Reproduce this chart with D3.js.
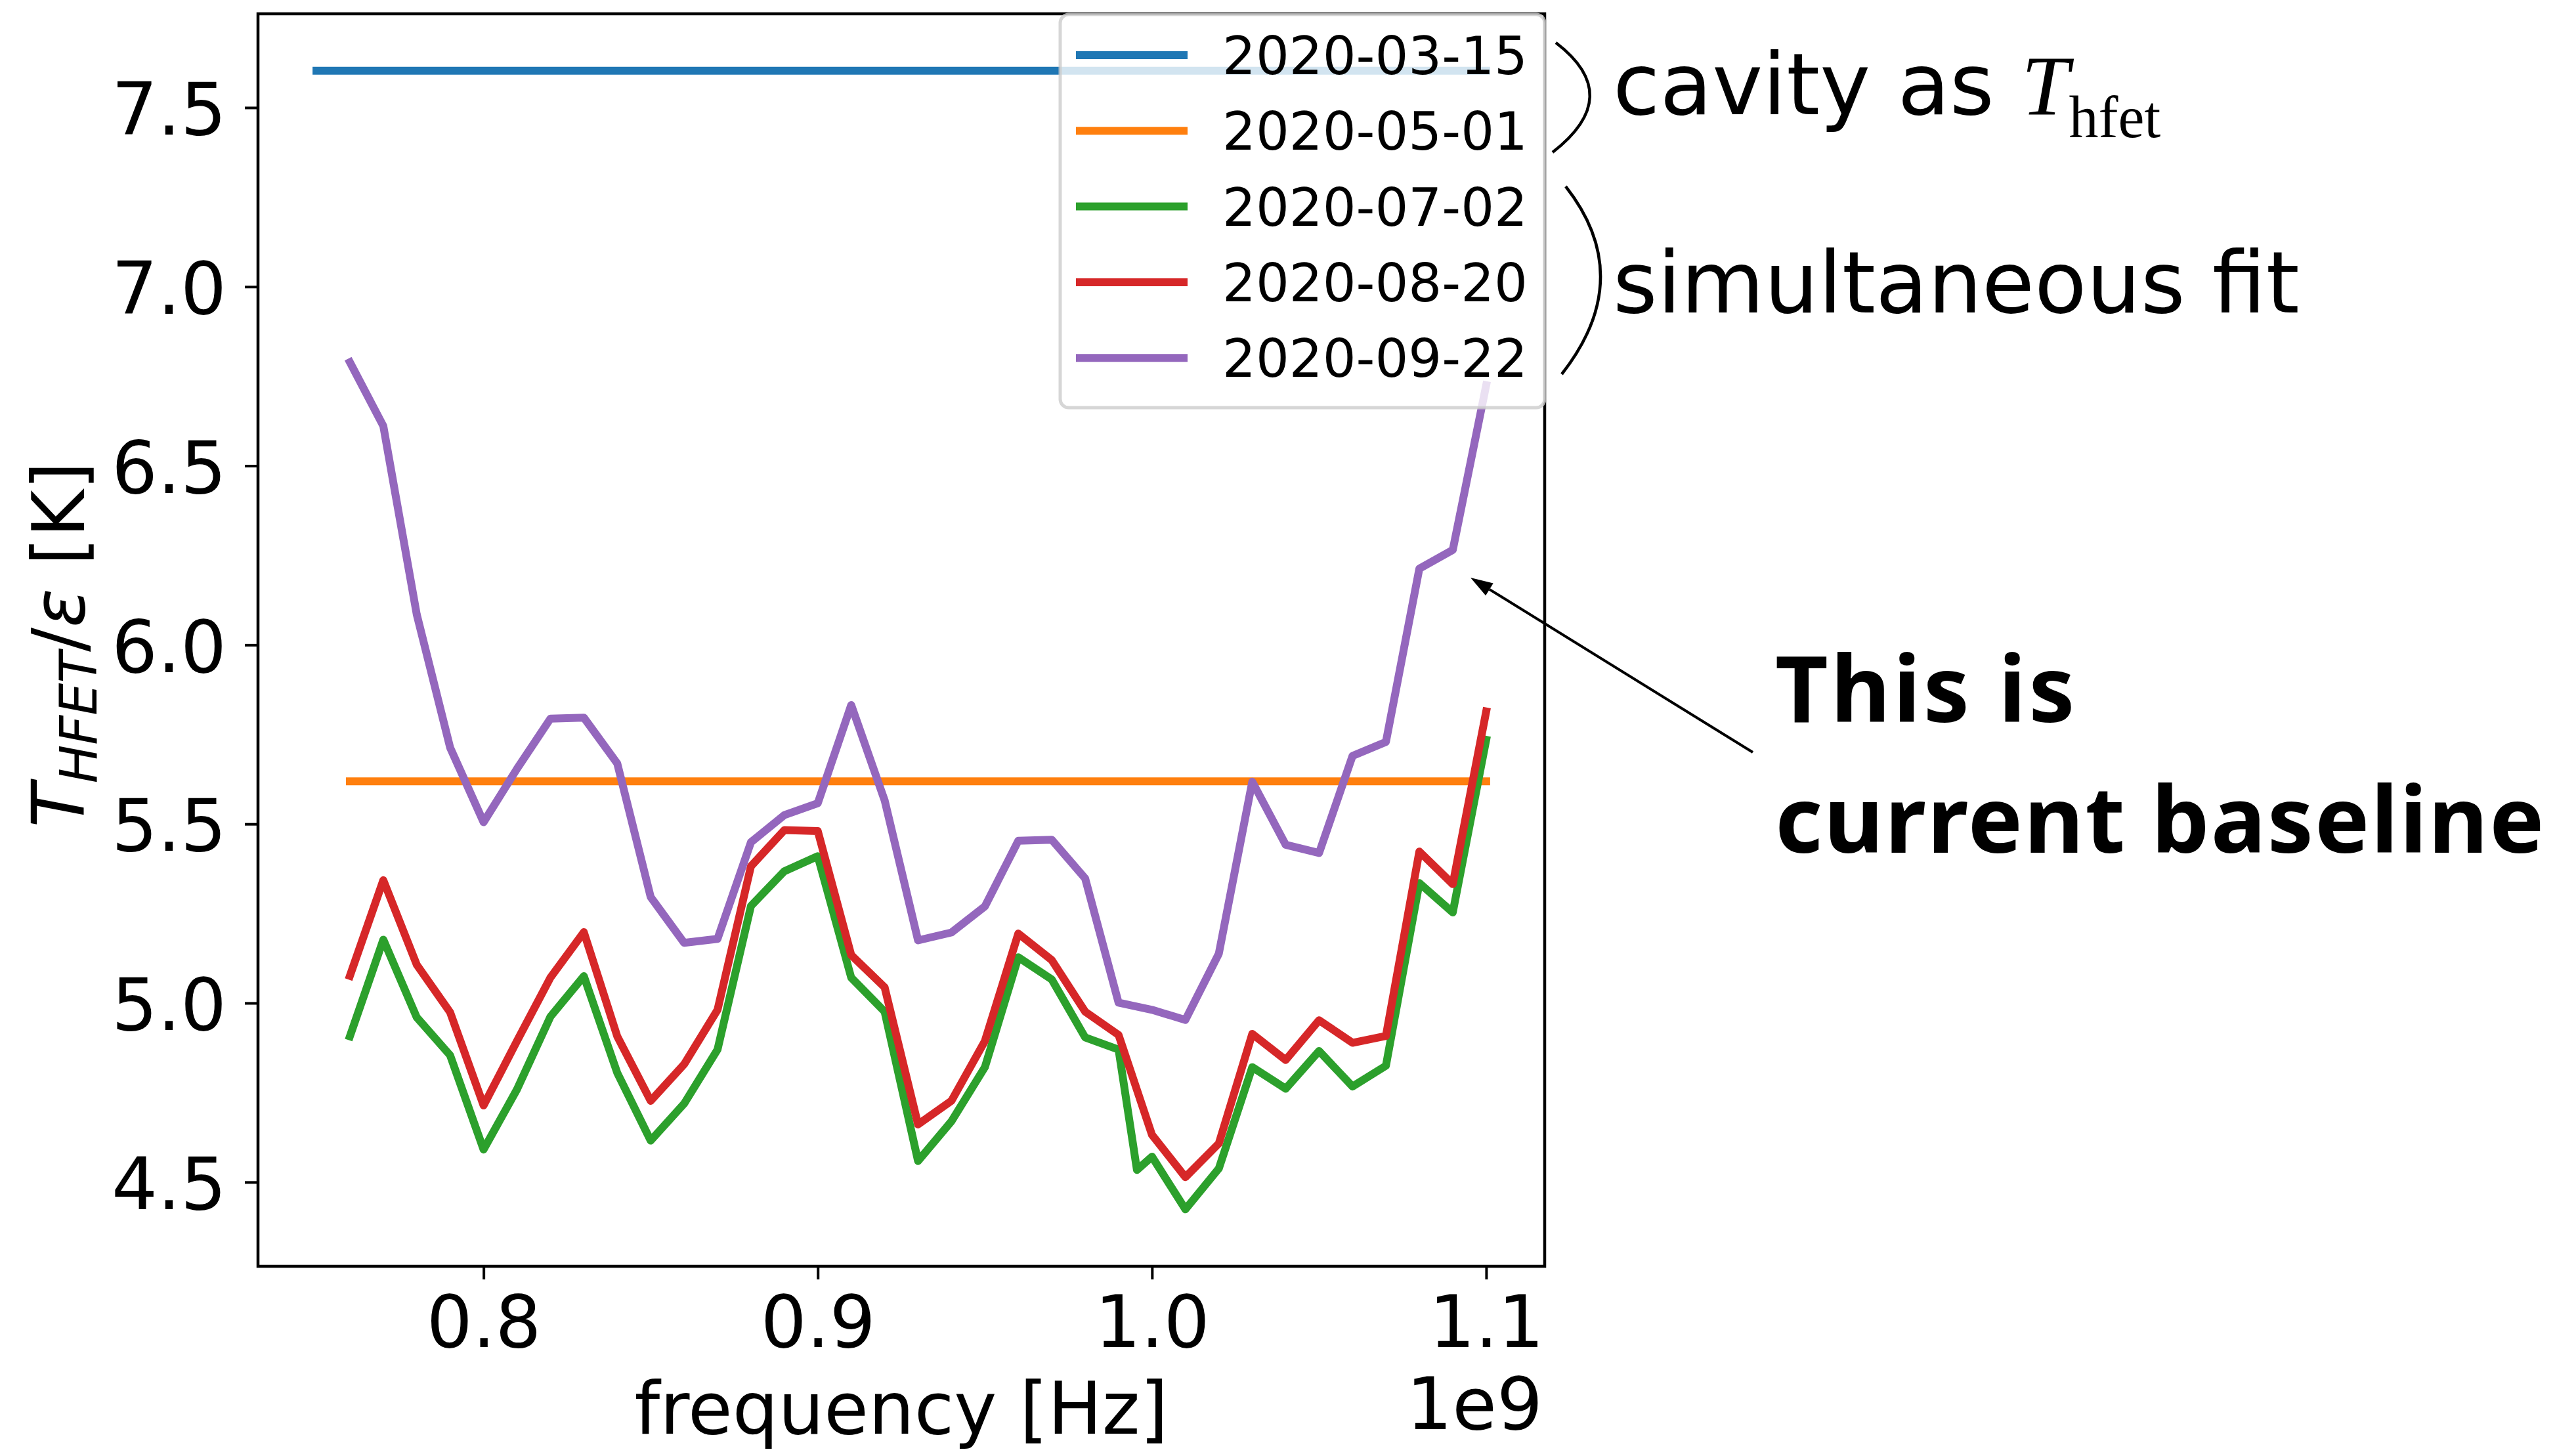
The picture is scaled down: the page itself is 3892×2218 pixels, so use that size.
<!doctype html>
<html>

<head>
    <meta charset="utf-8">
    <title>T_HFET vs frequency</title>
    <style>
    body {
        margin: 0;
        background: #fff;
    }

    svg {
        display: block;
    }
    </style>
</head>

<body>
    <svg width="3892" height="2218"></svg>
    <script src="https://cdn.jsdelivr.net/npm/d3@7"></script>
    <script>
    // legend labels (measurement dates)
    var dates = ["2020-03-15", "2020-05-01", "2020-07-02", "2020-08-20", "2020-09-22"];

    // frequencies in units of 1e9 Hz
    var freq = [0.76, 0.77, 0.78, 0.79, 0.80, 0.81, 0.82, 0.83, 0.84, 0.85, 0.86, 0.87,
        0.88, 0.89, 0.90, 0.91, 0.92, 0.93, 0.94, 0.95, 0.96, 0.97, 0.98, 0.99,
        1.00, 1.01, 1.02, 1.03, 1.04, 1.05, 1.06, 1.07, 1.08, 1.09, 1.10];
    var freqGreen = [0.76, 0.77, 0.78, 0.79, 0.80, 0.81, 0.82, 0.83, 0.84, 0.85, 0.86, 0.87,
        0.88, 0.89, 0.90, 0.91, 0.92, 0.93, 0.94, 0.95, 0.96, 0.97, 0.98, 0.99, 0.9955,
        1.00, 1.01, 1.02, 1.03, 1.04, 1.05, 1.06, 1.07, 1.08, 1.09, 1.10];

    // the two constant results (cavity as T_hfet)
    var freqMar = [0.75, 1.10];
    var valMar = [7.603, 7.603];
    var freqMay = [0.76, 1.10];
    var valMay = [5.619, 5.619];

    // simultaneous fit
    var valJul = [4.907, 5.177, 4.960, 4.854, 4.591, 4.759, 4.962, 5.075, 4.805, 4.616, 4.719, 4.870,
        5.271, 5.368, 5.410, 5.071, 4.976, 4.559, 4.670, 4.821, 5.128, 5.066, 4.904, 4.870, 4.534,
        4.571, 4.424, 4.538, 4.821, 4.761, 4.866, 4.767, 4.825, 5.335, 5.253, 5.735];
    var valAug = [5.076, 5.343, 5.107, 4.974, 4.714, 4.894, 5.071, 5.198, 4.907, 4.727, 4.829, 4.981,
        5.382, 5.483, 5.480, 5.134, 5.044, 4.661, 4.727, 4.894, 5.194, 5.120, 4.976, 4.911,
        4.632, 4.514, 4.608, 4.914, 4.841, 4.952, 4.889, 4.908, 5.423, 5.332, 5.814];
    var valSep = [6.789, 6.611, 6.085, 5.713, 5.505, 5.654, 5.794, 5.797, 5.669, 5.296, 5.168, 5.179,
        5.449, 5.525, 5.558, 5.832, 5.566, 5.175, 5.197, 5.270, 5.453, 5.456, 5.348, 5.001,
        4.981, 4.953, 5.138, 5.618, 5.442, 5.419, 5.690, 5.729, 6.213, 6.265, 6.725];

    var xTicks = [0.8, 0.9, 1.0, 1.1];
    var yTicks = [4.5, 5.0, 5.5, 6.0, 6.5, 7.0, 7.5];

    var colors = ["#1f77b4", "#ff7f0e", "#2ca02c", "#d62728", "#9467bd"];

    var series = [
        { name: dates[0], xs: freqMar, ys: valMar },
        { name: dates[1], xs: freqMay, ys: valMay },
        { name: dates[2], xs: freqGreen, ys: valJul },
        { name: dates[3], xs: freq, ys: valAug },
        { name: dates[4], xs: freq, ys: valSep }
    ];
    series.forEach(function(s, i) {
        s.color = colors[i];
        s.points = s.xs.map(function(f, j) { return [f, s.ys[j]]; });
    });

    var svg = d3.select("svg"),
        margin = { top: 21, right: 3892 - 2353, bottom: 2218 - 1929, left: 393 },
        width = +svg.attr("width") - margin.left - margin.right,
        height = +svg.attr("height") - margin.top - margin.bottom,
        g = svg.append("g").attr("transform", "translate(" + margin.left + "," + margin.top + ")");

    svg.insert("rect", ":first-child").attr("width", 3892).attr("height", 2218).attr("fill", "#fff");

    // matplotlib style 5% margins
    function pad(ext) {
        var d = (ext[1] - ext[0]) * 0.05;
        return [ext[0] - d, ext[1] + d];
    }
    var allX = d3.merge(series.map(function(s) { return s.xs; })),
        allY = d3.merge(series.map(function(s) { return s.ys; }));

    var x = d3.scaleLinear().domain(pad(d3.extent(allX))).range([0, width]);
    var y = d3.scaleLinear().domain(pad(d3.extent(allY))).range([height, 0]);

    var font = "DejaVu Sans";

    // lines
    g.append("clipPath").attr("id", "clip")
        .append("rect").attr("width", width).attr("height", height);

    var line = d3.line()
        .x(function(d) { return x(d[0]); })
        .y(function(d) { return y(d[1]); });

    g.append("g").attr("clip-path", "url(#clip)")
        .selectAll("path")
        .data(series)
        .enter().append("path")
        .attr("d", function(d) { return line(d.points); })
        .attr("fill", "none")
        .attr("stroke", function(d) { return d.color; })
        .attr("stroke-width", 12)
        .attr("stroke-linejoin", "round")
        .attr("stroke-linecap", "square");

    // axes
    var xAxisG = g.append("g")
        .attr("transform", "translate(0," + height + ")")
        .call(d3.axisBottom(x).tickValues(xTicks).tickFormat(d3.format(".1f")).tickSize(20).tickPadding(25));
    var yAxisG = g.append("g")
        .call(d3.axisLeft(y).tickValues(yTicks).tickFormat(d3.format(".1f")).tickSize(20).tickPadding(28));

    [xAxisG, yAxisG].forEach(function(a) {
        a.select(".domain").remove();
        a.attr("font-size", 110).attr("font-family", font);
        a.selectAll("line").attr("stroke", "#000").attr("stroke-width", 4);
        a.selectAll("text").attr("fill", "#000");
    });
    yAxisG.selectAll("text").attr("dy", "0.37em");

    // spines
    g.append("rect")
        .attr("width", width).attr("height", height)
        .attr("fill", "none").attr("stroke", "#000").attr("stroke-width", 4.5);

    // axis labels
    svg.append("text")
        .attr("x", margin.left + width / 2).attr("y", 2184)
        .attr("text-anchor", "middle")
        .attr("font-family", font).attr("font-size", 110)
        .text("frequency [Hz]");

    svg.append("text")
        .attr("x", margin.left + width - 3).attr("y", 2177)
        .attr("text-anchor", "end")
        .attr("font-family", font).attr("font-size", 110)
        .text("1e9");

    var yl = svg.append("text")
        .attr("transform", "translate(128," + (margin.top + height / 2 + 7) + ") rotate(-90)")
        .attr("text-anchor", "middle")
        .attr("font-family", font).attr("font-size", 110);
    yl.append("tspan").attr("font-style", "italic").text("T");
    yl.append("tspan").attr("font-style", "italic").attr("font-size", 78).attr("dy", 19).text("HFET");
    yl.append("tspan").attr("dy", -19).text("/");
    yl.append("tspan").attr("font-style", "italic").text("ε");
    yl.append("tspan").text(" [K]");

    // legend
    var leg = svg.append("g").attr("transform", "translate(1615,22)");
    leg.append("rect")
        .attr("width", 738).attr("height", 599)
        .attr("rx", 13).attr("ry", 13)
        .attr("fill", "#fff").attr("fill-opacity", 0.8)
        .attr("stroke", "#ccc").attr("stroke-opacity", 0.8)
        .attr("stroke-width", 5);

    var entry = leg.selectAll("g.entry")
        .data(series)
        .enter().append("g")
        .attr("class", "entry")
        .attr("transform", function(d, i) { return "translate(0," + (62 + i * 115.3) + ")"; });
    entry.append("line")
        .attr("x1", 24).attr("x2", 194)
        .attr("stroke", function(d) { return d.color; })
        .attr("stroke-width", 12);
    entry.append("text")
        .attr("x", 247).attr("y", 29)
        .attr("font-family", font).attr("font-size", 80)
        .text(function(d) { return d.name; });

    // annotations
    var ann = svg.append("g");
    ann.append("path")
        .attr("d", "M2370,65 Q2476,146 2365,232")
        .attr("fill", "none").attr("stroke", "#000").attr("stroke-width", 4.5);
    ann.append("path")
        .attr("d", "M2385,284 Q2494,423 2379,570")
        .attr("fill", "none").attr("stroke", "#000").attr("stroke-width", 4.5);

    var t1 = ann.append("text")
        .attr("x", 2457).attr("y", 174)
        .attr("font-family", font).attr("font-size", 130);
    t1.append("tspan").text("cavity as ");
    t1.append("tspan").attr("font-family", "Liberation Serif").attr("font-style", "italic").text("T");
    t1.append("tspan").attr("font-family", "Liberation Serif").attr("font-size", 90).attr("dy", 35).text("hfet");

    ann.append("text")
        .attr("x", 2457).attr("y", 476)
        .attr("font-family", font).attr("font-size", 130)
        .text("simultaneous fit");

    // arrow to the 2020-09-22 curve
    var tip = [2240, 880], tail = [2670, 1146];
    var ang = Math.atan2(tail[1] - tip[1], tail[0] - tip[0]),
        hl = 34, hw = 11;
    var bx = tip[0] + hl * Math.cos(ang), by = tip[1] + hl * Math.sin(ang);
    ann.append("line")
        .attr("x1", tail[0]).attr("y1", tail[1])
        .attr("x2", bx).attr("y2", by)
        .attr("stroke", "#000").attr("stroke-width", 4);
    ann.append("path")
        .attr("d", "M" + tip[0] + "," + tip[1] +
            "L" + (bx - hw * Math.sin(ang)) + "," + (by + hw * Math.cos(ang)) +
            "L" + (bx + hw * Math.sin(ang)) + "," + (by - hw * Math.cos(ang)) + "Z")
        .attr("fill", "#000");

    ann.append("text")
        .attr("x", 2704).attr("y", 1100)
        .attr("font-family", "Noto Sans").attr("font-weight", "bold").attr("font-size", 140)
        .attr("letter-spacing", 4)
        .text("This is");
    ann.append("text")
        .attr("x", 2704).attr("y", 1299)
        .attr("font-family", "Noto Sans").attr("font-weight", "bold").attr("font-size", 140)
        .attr("letter-spacing", 2)
        .text("current baseline");
    </script>
</body>

</html>
